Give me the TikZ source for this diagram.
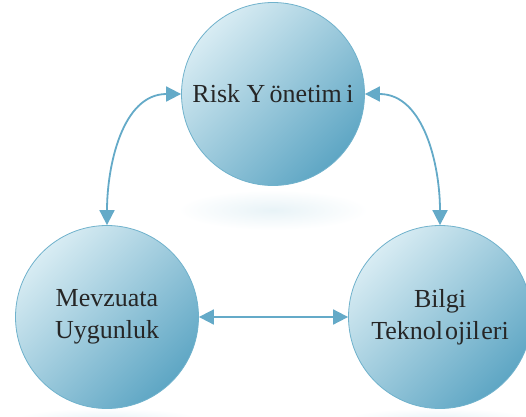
\documentclass[tikz,border=0pt]{standalone}
\usepackage{fontspec}
\setmainfont{Liberation Serif}
\usetikzlibrary{arrows.meta}
\definecolor{ballLight}{RGB}{216,236,243}
\definecolor{ballDark}{RGB}{94,166,196}
\definecolor{ballEdge}{RGB}{112,178,204}
\definecolor{linkBlue}{RGB}{100,170,200}
\definecolor{glow}{RGB}{232,243,247}
\begin{document}
\begin{tikzpicture}[x=1pt,y=1pt,
  ball/.style={circle, minimum size=183pt, inner sep=0pt,
    draw=ballEdge, line width=0.8pt,
    shading=axis, top color=ballLight, bottom color=ballDark, shading angle=45,
    align=center, font=\fontsize{26}{32}\selectfont, text=black!85},
  link/.style={draw=linkBlue, line width=1.8pt,
    {Triangle[length=15pt,width=15pt]}-{Triangle[length=15pt,width=15pt]}},
  halo/.style={shading=radial, inner color=glow, outer color=white}]
  \useasboundingbox (0,0) rectangle (526,416);
  \fill[white] (0,0) rectangle (526,416);
  % soft reflections under the balls
  \shade[halo] (273,206) ellipse (95 and 20);
  \shade[halo] (107,-4) ellipse (95 and 12);
  \shade[halo] (438,-4) ellipse (95 and 12);
  % the three balls
  \node[ball] (risk) at (273,322) {Risk Y\,önetim\,i};
  \node[ball] (law)  at (107,99)  {Mevzuata\\Uygunluk};
  \node[ball] (it)   at (440,99)  {Bilgi\\Teknol\kern2pt ojil\kern1.5pt eri};
  % links between them
  \draw[link] (law.north) to[out=90,in=180] (risk.west);
  \draw[link] (risk.east) to[out=0,in=90] (it.north);
  \draw[link] (law.east) -- (it.west);
\end{tikzpicture}
\end{document}
